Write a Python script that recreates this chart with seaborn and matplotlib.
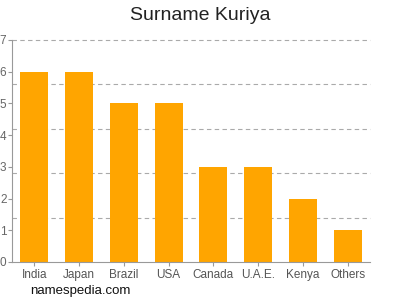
import matplotlib
matplotlib.use("Agg")
import matplotlib.pyplot as plt
import seaborn as sns
import numpy as np
import pandas as pd

categories = ["India", "Japan", "Brazil", "USA", "Canada", "U.A.E.", "Kenya", "Others"]
values = [6, 6, 5, 5, 3, 3, 2, 1]
yticks = [0, 1, 2, 3, 4, 5, 6, 7]
grid_levels = [1.4, 2.8, 4.2, 5.6, 7.0]

sns.set_style("white")
plt.rcParams['font.family'] = ['Liberation Sans', 'DejaVu Sans']

df = pd.DataFrame({"country": categories, "count": values})

fig = plt.figure(figsize=(4, 3), dpi=100)
ax = fig.add_axes([0.03, 0.1267, 0.895, 0.74])
for g in grid_levels:
    ax.axhline(g, linestyle=(0, (4, 3)), color="#aaaaaa", linewidth=0.8, zorder=0, clip_on=False)
sns.barplot(data=df, x="country", y="count", color="#FFA500", saturation=1,
            width=0.63, linewidth=0, ax=ax, zorder=2)
ax.set_ylim(0, 7)
ax.set_xlim(-0.5, len(categories) - 0.5)
ax.set_yticks(yticks)
ax.grid(False)
ax.tick_params(axis="y", which="major", length=3, color="#999999", labelsize=8.5,
               labelcolor="#666666", pad=1, left=True)
ax.tick_params(axis="x", length=3, color="#999999", labelsize=8.5, labelcolor="#555555",
               pad=2, bottom=True)
ax.set_xlabel("")
ax.set_ylabel("")
for s in ["top", "right"]:
    ax.spines[s].set_visible(False)
for s in ["left", "bottom"]:
    ax.spines[s].set_color("#999999")
    ax.spines[s].set_linewidth(0.8)

fig.text(0.5, 0.95, "Surname Kuriya", ha="center", va="center", fontsize=14, color="#222222")
fig.text(0.075, 0.03, "namespedia.com", ha="left", va="center", fontsize=9.5, color="#111111")

fig.savefig("out.png", dpi=100)
